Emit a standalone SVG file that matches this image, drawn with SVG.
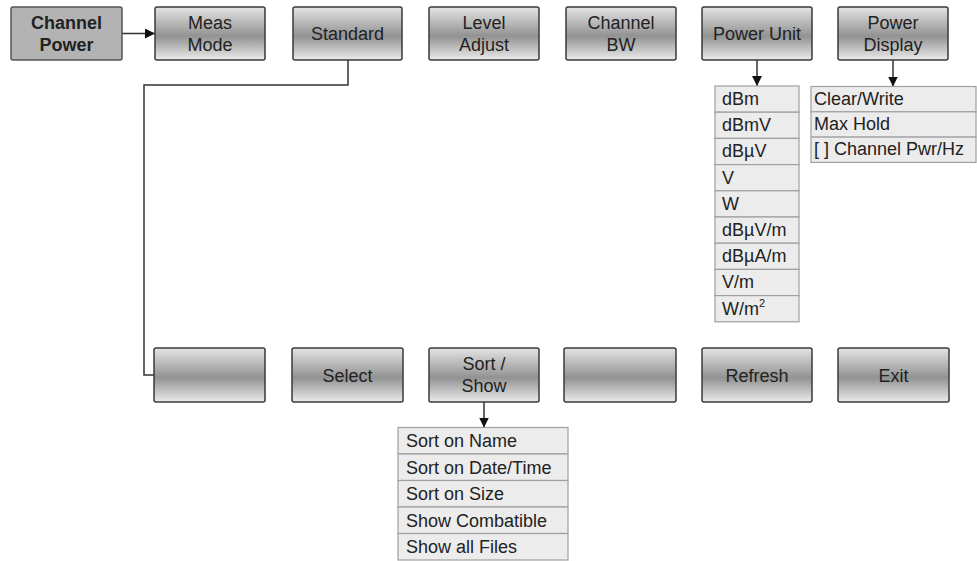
<svg xmlns="http://www.w3.org/2000/svg" width="977" height="561" viewBox="0 0 977 561">
<defs>
<linearGradient id="btn" x1="0" y1="0" x2="0" y2="1">
<stop offset="0" stop-color="#e4e4e4"/>
<stop offset="0.55" stop-color="#929292"/>
<stop offset="1" stop-color="#ebebeb"/>
</linearGradient>
<marker id="arr" viewBox="0 0 10 10" refX="10" refY="5" markerWidth="10" markerHeight="10" markerUnits="userSpaceOnUse" orient="auto">
<path d="M0,0 L10,5 L0,10 Z" fill="#111"/>
</marker>
</defs>
<style>
.btn rect{fill:url(#btn);stroke:#3a3a3a;stroke-width:1.5}
.sel rect{fill:#b3b3b3;stroke:#555;stroke-width:1.5}
text{font-family:"Liberation Sans",Arial,sans-serif;font-size:18px;fill:#222}
.c{text-anchor:middle}
.b{font-weight:bold}
.item rect{fill:#ececec;stroke:#a0a0a0;stroke-width:1.2}
.conn path{fill:none;stroke:#333;stroke-width:1.5}
</style>
<g class="conn">
<path d="M122,33.5 H155" marker-end="url(#arr)"/>
<path d="M348,60 V85 H144 V375 H154" stroke="#555"/>
<path d="M757,60 V86" marker-end="url(#arr)"/>
<path d="M893,60 V86.5" marker-end="url(#arr)"/>
<path d="M484,402 V427.5" marker-end="url(#arr)"/>
</g>
<g id="channel-power" class="sel"><rect x="11" y="7" width="111" height="53" rx="2"/><text class="c b" x="66.5" y="29">Channel</text><text class="c b" x="66.5" y="51">Power</text></g>
<g id="meas-mode" class="btn"><rect x="155" y="7" width="110" height="53" rx="2"/><text class="c" x="210" y="29">Meas</text><text class="c" x="210" y="51">Mode</text></g>
<g id="standard" class="btn"><rect x="293" y="7" width="109" height="53" rx="2"/><text class="c" x="347.5" y="40">Standard</text></g>
<g id="level-adjust" class="btn"><rect x="429" y="7" width="110" height="53" rx="2"/><text class="c" x="484" y="29">Level</text><text class="c" x="484" y="51">Adjust</text></g>
<g id="channel-bw" class="btn"><rect x="566" y="7" width="110" height="53" rx="2"/><text class="c" x="621" y="29">Channel</text><text class="c" x="621" y="51">BW</text></g>
<g id="power-unit" class="btn"><rect x="702" y="7" width="110" height="53" rx="2"/><text class="c" x="757" y="40">Power Unit</text></g>
<g id="power-display" class="btn"><rect x="838" y="7" width="110" height="53" rx="2"/><text class="c" x="893" y="29">Power</text><text class="c" x="893" y="51">Display</text></g>

<g id="soft1" class="btn"><rect x="154" y="348" width="111" height="54" rx="2"/></g>
<g id="select" class="btn"><rect x="292" y="348" width="111" height="54" rx="2"/><text class="c" x="347.5" y="381.5">Select</text></g>
<g id="sort-show" class="btn"><rect x="429" y="348" width="110" height="54" rx="2"/><text class="c" x="484" y="370">Sort /</text><text class="c" x="484" y="392">Show</text></g>
<g id="soft4" class="btn"><rect x="564" y="348" width="112" height="54" rx="2"/></g>
<g id="refresh" class="btn"><rect x="702" y="348" width="110" height="54" rx="2"/><text class="c" x="757" y="381.5">Refresh</text></g>
<g id="exit" class="btn"><rect x="838" y="348" width="111" height="54" rx="2"/><text class="c" x="893.5" y="381.5">Exit</text></g>

<g id="unit-list">
<g class="item"><rect x="715" y="86" width="84" height="26.2"/><text x="722" y="105">dBm</text></g>
<g class="item"><rect x="715" y="112.2" width="84" height="26.2"/><text x="722" y="131.2">dBmV</text></g>
<g class="item"><rect x="715" y="138.4" width="84" height="26.2"/><text x="722" y="157.4">dBµV</text></g>
<g class="item"><rect x="715" y="164.6" width="84" height="26.2"/><text x="722" y="183.6">V</text></g>
<g class="item"><rect x="715" y="190.8" width="84" height="26.2"/><text x="722" y="209.8">W</text></g>
<g class="item"><rect x="715" y="217" width="84" height="26.2"/><text x="722" y="236">dBµV/m</text></g>
<g class="item"><rect x="715" y="243.2" width="84" height="26.2"/><text x="722" y="262.2">dBµA/m</text></g>
<g class="item"><rect x="715" y="269.4" width="84" height="26.2"/><text x="722" y="288.4">V/m</text></g>
<g class="item"><rect x="715" y="295.6" width="84" height="26.2"/><text x="722" y="314.6">W/m<tspan font-size="11" dy="-8">2</tspan></text></g>
</g>

<g id="display-list">
<g class="item"><rect x="811" y="86.5" width="165" height="25.3"/><text x="814" y="104.5">Clear/Write</text></g>
<g class="item"><rect x="811" y="111.8" width="165" height="25.3"/><text x="814" y="129.8">Max Hold</text></g>
<g class="item"><rect x="811" y="137.1" width="165" height="25.3"/><text x="814" y="155.1">[ ] Channel Pwr/Hz</text></g>
</g>

<g id="sort-list">
<g class="item"><rect x="398" y="427.5" width="170" height="26.5"/><text x="406" y="447">Sort on Name</text></g>
<g class="item"><rect x="398" y="454" width="170" height="26.5"/><text x="406" y="473.5">Sort on Date/Time</text></g>
<g class="item"><rect x="398" y="480.5" width="170" height="26.5"/><text x="406" y="500">Sort on Size</text></g>
<g class="item"><rect x="398" y="507" width="170" height="26.5"/><text x="406" y="526.5">Show Combatible</text></g>
<g class="item"><rect x="398" y="533.5" width="170" height="26.5"/><text x="406" y="553">Show all Files</text></g>
</g>
</svg>
